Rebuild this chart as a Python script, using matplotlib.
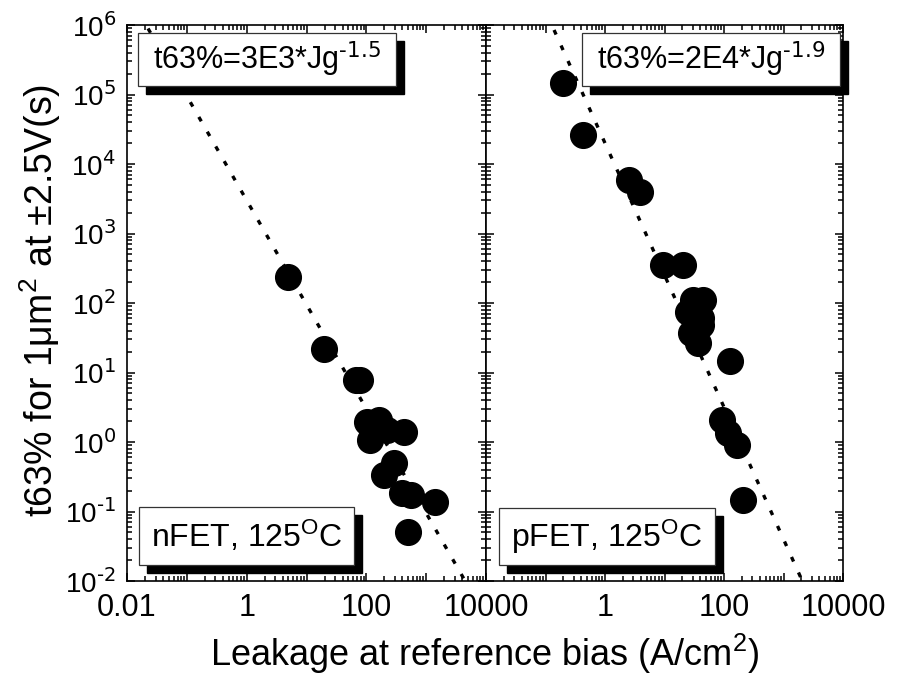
import matplotlib
matplotlib.use("Agg")
import matplotlib.pyplot as plt
import numpy as np
from matplotlib.patches import Rectangle
from matplotlib.ticker import FixedLocator, FixedFormatter, LogLocator, NullFormatter

plt.rcParams['font.family'] = ['Liberation Sans', 'DejaVu Sans']
plt.rcParams['mathtext.default'] = 'regular'

# nFET data (A/cm^2, s)
j_nfet = [5.0, 19.4, 67, 78.5, 103, 164, 116, 224, 434, 294, 200, 402, 548, 1390, 488]
t_nfet = [237, 21.8, 7.8, 7.8, 1.94, 2.07, 1.07, 1.49, 1.39, 0.50, 0.335, 0.185, 0.173, 0.137, 0.051]

# pFET data
j_pfet = [0.2, 0.43, 2.58, 3.95, 9.3, 20.2, 29.8, 43.9, 24.5, 40.6, 40.6, 27.5, 36, 125, 92, 115, 164, 207]
t_pfet = [1.46e5, 2.6e4, 5890, 3950, 352, 352, 110, 110, 74, 61, 48, 37, 26.5, 14.6, 2.07, 1.35, 0.91, 0.146]

# fit lines t63 = A * Jg^n
fit_nfet = (3e3, -1.5)
fit_pfet = (2e4, -1.9)

y_exp = list(range(-2, 7))
y_labels = [r'$10^{\text{%d}}$' % e for e in y_exp]
x_exp = list(range(-2, 5))
x_labels_left = ['0.01', '', '1', '', '100', '', '10000']
x_labels_right = ['', '', '1', '', '100', '', '10000']

W, H = 900, 678
fig = plt.figure(figsize=(9, 6.78), dpi=100)


def fx(px):
    return px / W


def fy(py):
    return 1 - py / H


ax_l = fig.add_axes([fx(127), fy(581), (486 - 127) / W, (581 - 25) / H])
ax_r = fig.add_axes([fx(486), fy(581), (843 - 486) / W, (581 - 25) / H])

for ax, jj, tt, fit, xl in [(ax_l, j_nfet, t_nfet, fit_nfet, x_labels_left),
                            (ax_r, j_pfet, t_pfet, fit_pfet, x_labels_right)]:
    ax.set_xscale('log')
    ax.set_yscale('log')
    ax.set_xlim(0.01, 1e4)
    ax.set_ylim(0.01, 1e6)
    xs = np.logspace(-2, 4, 200)
    ax.plot(xs, fit[0] * xs ** fit[1], color='black', lw=2.4,
            linestyle=(0, (1.5, 3.6)), zorder=2)
    ax.plot(jj, tt, 'o', color='black', markersize=18.5, zorder=3)
    ax.xaxis.set_major_locator(FixedLocator([10.0 ** e for e in x_exp]))
    ax.xaxis.set_major_formatter(FixedFormatter(xl))
    ax.xaxis.set_minor_locator(LogLocator(base=10, subs=np.arange(2, 10), numticks=20))
    ax.xaxis.set_minor_formatter(NullFormatter())
    ax.yaxis.set_major_locator(FixedLocator([10.0 ** e for e in y_exp]))
    ax.yaxis.set_minor_locator(LogLocator(base=10, subs=np.arange(2, 10), numticks=20))
    ax.yaxis.set_minor_formatter(NullFormatter())
    ax.tick_params(which='both', direction='in', top=True, right=True, width=1.1, color='black')
    ax.tick_params(which='major', length=6)
    ax.tick_params(which='minor', length=3.3)
    ax.tick_params(axis='x', which='major', labelsize=22, pad=9)
    for s in ax.spines.values():
        s.set_linewidth(1.2)

ax_l.yaxis.set_major_formatter(FixedFormatter(y_labels))
ax_l.tick_params(axis='y', which='major', labelsize=20, pad=8)
ax_r.yaxis.set_major_formatter(FixedFormatter([''] * len(y_exp)))


def shadow_box(x0, y0, x1, y1, text, size, pad_left=None):
    fig.add_artist(Rectangle((fx(x0 + 8), fy(y1 + 8)), (x1 - x0) / W, (y1 - y0) / H,
                             transform=fig.transFigure, facecolor='black',
                             edgecolor='black', zorder=5))
    fig.add_artist(Rectangle((fx(x0), fy(y1)), (x1 - x0) / W, (y1 - y0) / H,
                             transform=fig.transFigure, facecolor='white',
                             edgecolor='#333333', lw=0.9, zorder=6))
    if pad_left is None:
        fig.text(fx((x0 + x1) / 2), fy((y0 + y1) / 2), text, ha='center', va='center',
                 fontsize=size, zorder=7)
    else:
        fig.text(fx(x0 + pad_left), fy((y0 + y1) / 2), text, ha='left', va='center',
                 fontsize=size, zorder=7)


shadow_box(138, 33, 396, 86, r't63%=3E3*Jg$^{\text{-1.5}}$', 22, pad_left=15)
shadow_box(582, 33, 840, 86, r't63%=2E4*Jg$^{\text{-1.9}}$', 22, pad_left=15)
shadow_box(139, 507, 354, 565, r'nFET, 125$^{O}$C', 23)
shadow_box(499, 508, 715, 565, r'pFET, 125$^{O}$C', 23)

fig.text(fx(40), fy(300), r't63% for 1$\mu$m$^{2}$ at $\pm$2.5V(s)', rotation=90,
         ha='center', va='center', fontsize=27)
fig.text(fx(485), fy(654), r'Leakage at reference bias (A/cm$^{2}$)', ha='center', va='center',
         fontsize=26)

fig.savefig('out.png', dpi=100)
